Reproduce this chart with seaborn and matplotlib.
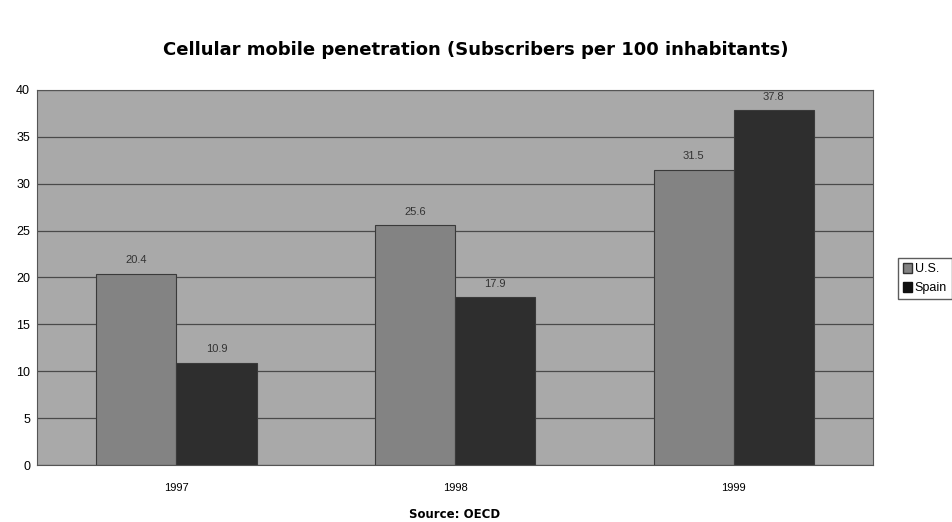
import pandas as pd
import seaborn as sns
import matplotlib.pyplot as plt

years = ["1997", "1998", "1999"]
us = [20.4, 25.6, 31.5]
spain = [10.9, 17.9, 37.8]

df = pd.DataFrame({
    "year": years * 2,
    "value": us + spain,
    "country": ["U.S."] * 3 + ["Spain"] * 3,
})

sns.set_style("white")
plt.rcParams['font.family'] = ['Liberation Sans', 'DejaVu Sans']
plt.rcParams['text.color'] = "black"
plt.rcParams['xtick.color'] = "black"
plt.rcParams['ytick.color'] = "black"

fig = plt.figure(figsize=(9.52, 5.22), dpi=100)
ax = fig.add_axes([0.039, 0.109, 0.878, 0.719])
ax.set_facecolor("#a9a9a9")

sns.barplot(data=df, x="year", y="value", hue="country",
            palette={"U.S.": "#838383", "Spain": "#2e2e2e"},
            width=0.575, edgecolor="#3a3a3a", linewidth=0.8,
            saturation=1, ax=ax, legend=True)

ax.set_ylim(0, 40)
ax.set_yticks(range(0, 41, 5))
ax.yaxis.grid(True, color="#4a4a4a", linewidth=0.9)
ax.set_axisbelow(True)
ax.set_xlabel("")
ax.set_ylabel("")
ax.tick_params(axis="y", labelsize=9, length=3, pad=2)
ax.tick_params(axis="x", labelsize=8, length=0, pad=13)
for s in ax.spines.values():
    s.set_color("#555555")
    s.set_linewidth(0.8)

for cont in ax.containers:
    ax.bar_label(cont, fmt="%.1f", padding=6, fontsize=8, color="#333333")

ax.get_legend().remove()
handles = [plt.Rectangle((0, 0), 1, 1, fc="#838383", ec="#333333"),
           plt.Rectangle((0, 0), 1, 1, fc="#111111", ec="#111111")]
fig.legend(handles, ["U.S.", "Spain"], loc="upper left",
           bbox_to_anchor=(0.937, 0.518), frameon=True, fontsize=9,
           handlelength=0.7, handleheight=0.9, handletextpad=0.2,
           borderpad=0.4, labelspacing=0.5, fancybox=False,
           edgecolor="#333333")

fig.text(0.5, 0.895, "Cellular mobile penetration (Subscribers per 100 inhabitants)",
         ha="center", fontsize=13, fontweight="bold", family="DejaVu Sans")
fig.text(0.477, 0.008, "Source: OECD", ha="center", fontsize=8.5,
         fontweight="bold", family="DejaVu Sans")

fig.savefig("out.png", dpi=100)
